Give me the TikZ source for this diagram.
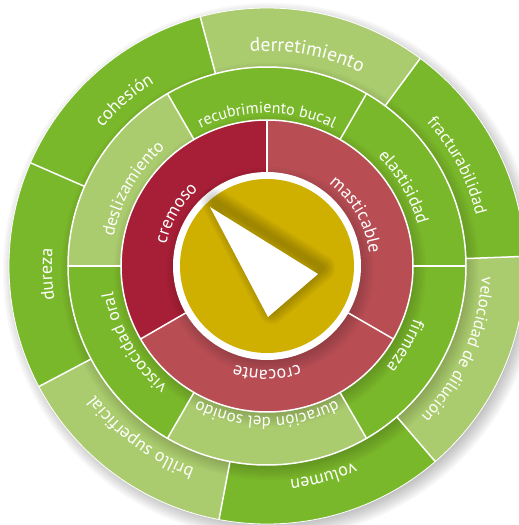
\documentclass[tikz,border=0pt]{standalone}
\usepackage{fontspec}
\setmainfont{PT Sans}
\usetikzlibrary{decorations.text}

\definecolor{leafgreen}{HTML}{7AB82B}
\definecolor{palegreen}{HTML}{AACC6E}
\definecolor{wine}{HTML}{A61F36}
\definecolor{rosered}{HTML}{B84E54}
\definecolor{mustard}{HTML}{CFAF00}

\tikzset{
  divider/.style={white, line width=1.5pt},
  softshade/.style={black, opacity=0.025}
}

% wedge from angle #2 to #3 (ccw), radius #4
\newcommand{\wedgefill}[4]{\fill[#1] (0,0) -- (#2:#4) arc[start angle=#2, end angle=#3, radius=#4] -- cycle;}
% soft shadow of a disc of radius #1
\newcommand{\discshadow}[1]{\foreach \k in {0,...,8} \fill[softshade] (3,-5) circle ({#1+10-2*\k});}
% clockwise label: centre angle #1, half span #2, radius #3, size #4
\newcommand{\ringlabel}[5]{\path[decorate, decoration={text along path, text align=center, text color=white,
    text={|\fontsize{#4pt}{#4pt}\selectfont|#5}}]
    ({#1+#2}:#3) arc[start angle={#1+#2}, end angle={#1-#2}, radius=#3];}

\begin{document}
\begin{tikzpicture}[x=1pt, y=1pt]
    % Frame
    \useasboundingbox (-267,-259) rectangle (252,266);
    \fill[white] (-267,-259) rectangle (252,266);
    \clip (-267,-259) rectangle (252,266);

    % Outer ring
    \foreach \k in {0,...,7}
        \fill[black, opacity=0.03] (4,-5) circle ({268-2*\k});
    \wedgefill{leafgreen}{2.14}{53.57}{258}
    \wedgefill{palegreen}{53.57}{105}{258}
    \wedgefill{leafgreen}{105}{156.43}{258}
    \wedgefill{leafgreen}{156.43}{207.86}{258}
    \wedgefill{palegreen}{207.86}{259.29}{258}
    \wedgefill{leafgreen}{259.29}{310.71}{258}
    \wedgefill{palegreen}{310.71}{362.14}{258}

    % Middle ring
    \discshadow{199}
    \wedgefill{leafgreen}{0}{60}{199}
    \wedgefill{leafgreen}{60}{120}{199}
    \wedgefill{palegreen}{120}{180}{199}
    \wedgefill{leafgreen}{180}{240}{199}
    \wedgefill{palegreen}{240}{300}{199}
    \wedgefill{leafgreen}{300}{360}{199}

    % Red ring
    \discshadow{146}
    \wedgefill{rosered}{-30}{90}{146}
    \wedgefill{wine}{90}{210}{146}
    \wedgefill{rosered}{210}{330}{146}

    % Centre disc and pointer
    \discshadow{94}
    \fill[white] (0,0) circle (94);
    \fill[mustard] (0,0) circle (87);
    \coordinate (tiptop) at (-57,59);
    \coordinate (tipright) at (51,-8);
    \coordinate (tipbottom) at (1,-51);
    \foreach \w in {26,22,18,14,10,6}
        \draw[black, opacity=0.04, line width=\w pt, line join=round]
            ([shift={(4,6)}]tiptop) -- ([shift={(4,6)}]tipright) -- ([shift={(4,6)}]tipbottom) -- cycle;
    \fill[white] (tiptop) -- (tipright) -- (tipbottom) -- cycle;

    % White borders
    \draw[divider] (0,0) circle (146);
    \draw[divider] (0,0) circle (199);
    \draw[white, line width=0.8pt] (0,0) circle (258);
    \foreach \a in {90,210,330}
        \draw[divider] (\a:94) -- (\a:146);
    \foreach \a in {0,60,...,300}
        \draw[divider] (\a:146) -- (\a:199);
    \foreach \i in {0,...,6}
        \draw[divider] ({105-\i*360/7}:199) -- ({105-\i*360/7}:258);

    % Labels
    \ringlabel{150}{60}{103}{18}{cremoso}
    \ringlabel{30}{60}{103}{18}{masticable}
    \ringlabel{270}{60}{104}{18}{crocante}

    \ringlabel{90}{45}{153}{16}{recubrimiento bucal}
    \ringlabel{30}{45}{156}{17.5}{elastisidad}
    \ringlabel{-30}{45}{156}{17.5}{firmeza}
    \ringlabel{-90}{45}{151}{17}{duración del sonido}
    \ringlabel{-150}{45}{156}{17.5}{viscocidad oral}
    \ringlabel{150}{45}{156}{17.5}{deslizamiento}

    \ringlabel{79.29}{40}{215}{19.5}{derretimiento}
    \ringlabel{27.86}{40}{215}{17}{fracturabilidad}
    \ringlabel{-23.57}{40}{215}{17}{velocidad de dilución}
    \ringlabel{-75}{40}{215}{18}{volumen}
    \ringlabel{-126.43}{40}{215}{18}{brillo superficial}
    \ringlabel{182.14}{40}{215}{18}{dureza}
    \ringlabel{130.71}{40}{215}{18}{cohesión}
\end{tikzpicture}
\end{document}
